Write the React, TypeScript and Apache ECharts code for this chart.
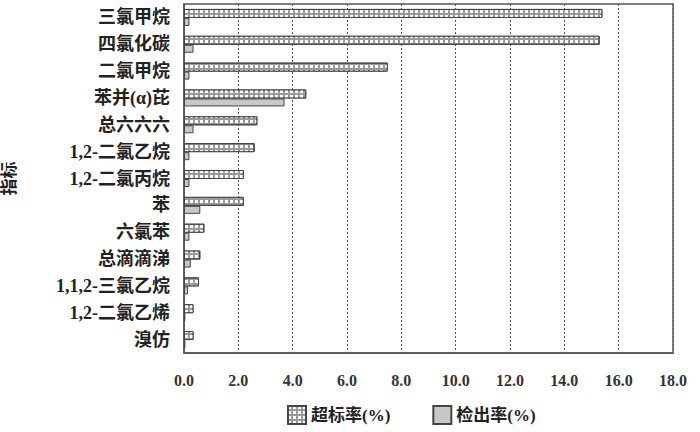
import React, { useEffect, useRef } from "react";
import * as echarts from "echarts";

const categories = [
  "三氯甲烷",
  "四氯化碳",
  "二氯甲烷",
  "苯并(α)芘",
  "总六六六",
  "1,2-二氯乙烷",
  "1,2-二氯丙烷",
  "苯",
  "六氯苯",
  "总滴滴涕",
  "1,1,2-三氯乙烷",
  "1,2-二氯乙烯",
  "溴仿",
];
const exceedRate = [15.4, 15.3, 7.5, 4.5, 2.7, 2.6, 2.2, 2.2, 0.75, 0.6, 0.55, 0.35, 0.35];
const detectRate = [0.2, 0.35, 0.2, 3.7, 0.35, 0.2, 0.2, 0.6, 0.2, 0.25, 0.15, 0.05, 0.05];
const xTicks = [0, 2, 4, 6, 8, 10, 12, 14, 16, 18];
const seriesNames = ["超标率(%)", "检出率(%)"];
const axisName = "指标";

const FONT = "'Liberation Serif', 'Noto Sans CJK SC', serif";

export default function App() {
  const ref = useRef<HTMLDivElement>(null);
  useEffect(() => {
    if (!ref.current) return;
    const chart = echarts.init(ref.current, undefined, { renderer: "svg" });
    chart.setOption({
      animation: false,
      backgroundColor: "#fff",
      textStyle: { fontFamily: FONT },
      grid: {
        left: 184,
        right: 27,
        top: 4,
        bottom: 79,
        show: true,
        borderColor: "#555",
        borderWidth: 1.5,
        outerBoundsMode: "none",
        containLabel: false,
      },
      legend: {
        left: 282,
        top: 400,
        icon: "rect",
        itemWidth: 18,
        itemHeight: 18,
        itemGap: 42,
        textStyle: { fontFamily: FONT, fontSize: 17, fontWeight: "bold", color: "#222" },
        data: seriesNames,
      },
      xAxis: {
        type: "value",
        min: xTicks[0],
        max: xTicks[xTicks.length - 1],
        interval: 2,
        axisLine: { show: true, lineStyle: { color: "#555", width: 1.5 } },
        axisTick: { show: false },
        axisLabel: {
          margin: 19,
          fontSize: 16,
          fontWeight: "bold",
          fontFamily: FONT,
          color: "#333",
          formatter: (v: number) => v.toFixed(1),
        },
        splitLine: { show: true, lineStyle: { color: "#555", type: [2, 2], width: 1 } },
      },
      yAxis: {
        type: "category",
        inverse: true,
        data: categories,
        name: axisName,
        nameLocation: "middle",
        nameRotate: 90,
        nameGap: 166,
        nameTextStyle: { fontSize: 17, fontWeight: "bold", fontFamily: FONT, color: "#222" },
        axisLine: { show: true, lineStyle: { color: "#555", width: 1.5 } },
        axisTick: { show: false },
        axisLabel: { fontSize: 18, fontWeight: "bold", fontFamily: FONT, color: "#222", margin: 14 },
      },
      series: [
        {
          name: seriesNames[0],
          type: "bar",
          data: exceedRate,
          barWidth: 9,
          barGap: "0%",
          itemStyle: {
            color: "#9a9a9a",
            borderColor: "#444",
            borderWidth: 1,
            decal: {
              symbol: "rect",
              symbolSize: 1,
              color: "#fff",
              dashArrayX: [3, 1.5],
              dashArrayY: [3, 2],
              rotation: 0,
            },
          },
        },
        {
          name: seriesNames[1],
          type: "bar",
          data: detectRate,
          barWidth: 8,
          barGap: "0%",
          itemStyle: { color: "#c8c8c8", borderColor: "#444", borderWidth: 1 },
        },
      ],
    });
    return () => chart.dispose();
  }, []);
  return <div ref={ref} style={{ width: 700, height: 432, position: "absolute", left: 0, top: 0 }} />;
}
